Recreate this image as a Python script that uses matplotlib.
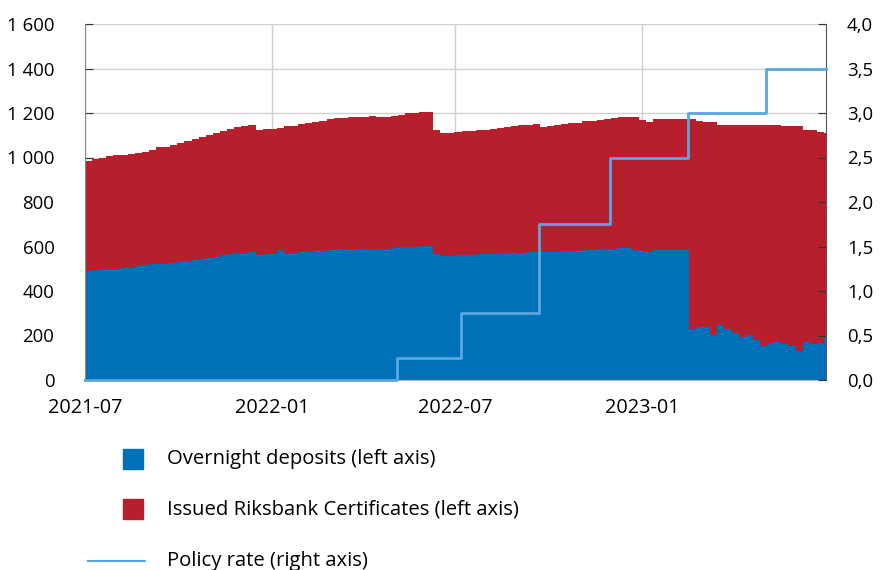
import matplotlib
matplotlib.use("Agg")
import matplotlib.pyplot as plt
import matplotlib.dates as mdates
from matplotlib.patches import Rectangle
from matplotlib.lines import Line2D
from matplotlib.ticker import FuncFormatter
import numpy as np
import pandas as pd

# ---- data (weekly, SEK billion) ----
week_start = "2021-07-01"
end_date = "2023-07-01"

total = [985, 995, 1000, 1008, 1010, 1012, 1014, 1020, 1025, 1035,
         1045, 1047, 1054, 1065, 1075, 1082, 1090, 1100, 1110, 1118,
         1128, 1137, 1140, 1145, 1122, 1130, 1126, 1132, 1140, 1143,
         1150, 1155, 1160, 1165, 1172, 1176, 1178, 1182, 1184, 1182,
         1185, 1180, 1182, 1188, 1192, 1198, 1202, 1204, 1206, 1125,
         1108, 1112, 1116, 1118, 1120, 1122, 1125, 1128, 1132, 1136,
         1140, 1144, 1148, 1152, 1136, 1140, 1146, 1150, 1153, 1157,
         1162, 1166, 1170, 1174, 1176, 1180, 1182, 1184, 1168, 1160,
         1172, 1173, 1174, 1174, 1174, 1174, 1162, 1160, 1160, 1148,
         1145, 1145, 1145, 1145, 1144, 1144, 1144, 1144, 1143, 1143,
         1140, 1125, 1125, 1115, 1110]

overnight = [489, 496, 498, 500, 501, 503, 505, 512, 515, 520,
             523, 521, 527, 533, 537, 541, 545, 549, 555, 560,
             568, 570, 572, 574, 563, 565, 566, 586, 572, 573,
             574, 576, 580, 582, 586, 589, 588, 586, 588, 590,
             590, 589, 591, 594, 597, 598, 600, 601, 604, 566,
             556, 558, 560, 562, 563, 565, 567, 568, 570, 571,
             572, 573, 574, 574, 575, 576, 577, 578, 580, 582,
             584, 586, 588, 590, 591, 592, 592, 583, 578, 574,
             586, 586, 586, 586, 586, 227, 239, 236, 204, 245,
             227, 210, 194, 204, 182, 155, 167, 174, 160, 152,
             129, 170, 164, 168, 189]

rate_dates = ["2021-07-01", "2022-05-04", "2022-07-06", "2022-09-21",
              "2022-11-30", "2023-02-15", "2023-05-03"]
rate_values = [0.0, 0.25, 0.75, 1.75, 2.5, 3.0, 3.5]

labels = ["Overnight deposits (left axis)",
          "Issued Riksbank Certificates (left axis)",
          "Policy rate (right axis)"]

# ---- styling ----
BLUE = "#0070B8"
RED = "#B81F2D"
LINE = "#5AA7E0"
GRID = "#D0D0D0"
FONT = ["Open Sans", "DejaVu Sans"]
FS_Y = 13.4
FS_X = 14.3
FS_LEG = 14.6
plt.rcParams["font.family"] = FONT

dates = pd.date_range(week_start, periods=len(total), freq="7D")
x = list(dates) + [pd.Timestamp(end_date)]
tot = np.array(total + [total[-1]], dtype=float)
dep = np.array(overnight + [overnight[-1]], dtype=float)

fig = plt.figure(figsize=(8.8, 5.7), dpi=100)
ax = fig.add_axes([85/880, 1-380/570, (826-85)/880, (380-24)/570])

ax.fill_between(x, 0, dep, step="post", color=BLUE, linewidth=0, zorder=2)
ax.fill_between(x, dep, tot, step="post", color=RED, linewidth=0, zorder=2)

ax.set_ylim(0, 1600)
ax.set_yticks(range(0, 1601, 200))
ax.yaxis.set_major_formatter(FuncFormatter(lambda v, p: f"{int(v):,}".replace(",", " ")))
ax.set_xlim(pd.Timestamp(week_start), pd.Timestamp(end_date))
ax.set_xticks([pd.Timestamp(d) for d in ["2021-07-01", "2022-01-01", "2022-07-01", "2023-01-01"]])
ax.xaxis.set_major_formatter(mdates.DateFormatter("%Y-%m"))
ax.grid(True, color=GRID, linewidth=1, zorder=0)
ax.set_axisbelow(True)
ax.spines["top"].set_visible(False)
ax.spines["left"].set_color("#888888")
ax.spines["right"].set_visible(False)
ax.spines["bottom"].set_color("#BBBBBB")
ax.tick_params(axis="y", direction="in", length=6, color="#333333", pad=22, labelsize=FS_Y)
ax.tick_params(axis="x", length=0, pad=13, labelsize=FS_X)

ax2 = ax.twinx()
rx = [pd.Timestamp(d) for d in rate_dates] + [pd.Timestamp(end_date)]
ry = rate_values + [rate_values[-1]]
ax2.step(rx, ry, where="post", color=LINE, linewidth=2, zorder=5, clip_on=False)
ax2.set_ylim(0, 4.0)
ax2.set_yticks(np.arange(0, 4.01, 0.5))
ax2.yaxis.set_major_formatter(FuncFormatter(lambda v, p: f"{v:.1f}".replace(".", ",")))
ax2.tick_params(axis="y", direction="in", length=6, color="#333333", pad=15, labelsize=FS_Y)
for s in ["top", "left", "bottom"]:
    ax2.spines[s].set_visible(False)
ax2.spines["right"].set_color("#555555")

# ---- legend (manual) ----
W, H = 880, 570
items = [(BLUE, 459), (RED, 509)]
for (c, yc), lab in zip(items, labels[:2]):
    fig.patches.append(Rectangle((123/W, 1-(yc+10)/H), 20/W, 20/H,
                                 transform=fig.transFigure, color=c))
    fig.text(167/W, 1-yc/H, lab, va="center", ha="left", fontsize=FS_LEG)
fig.lines.append(Line2D([88/W, 145/W], [1-561/H, 1-561/H], transform=fig.transFigure,
                        color=LINE, linewidth=1.5))
fig.text(167/W, 1-561/H, labels[2], va="center", ha="left", fontsize=FS_LEG)

fig.savefig("out.png", dpi=100)
